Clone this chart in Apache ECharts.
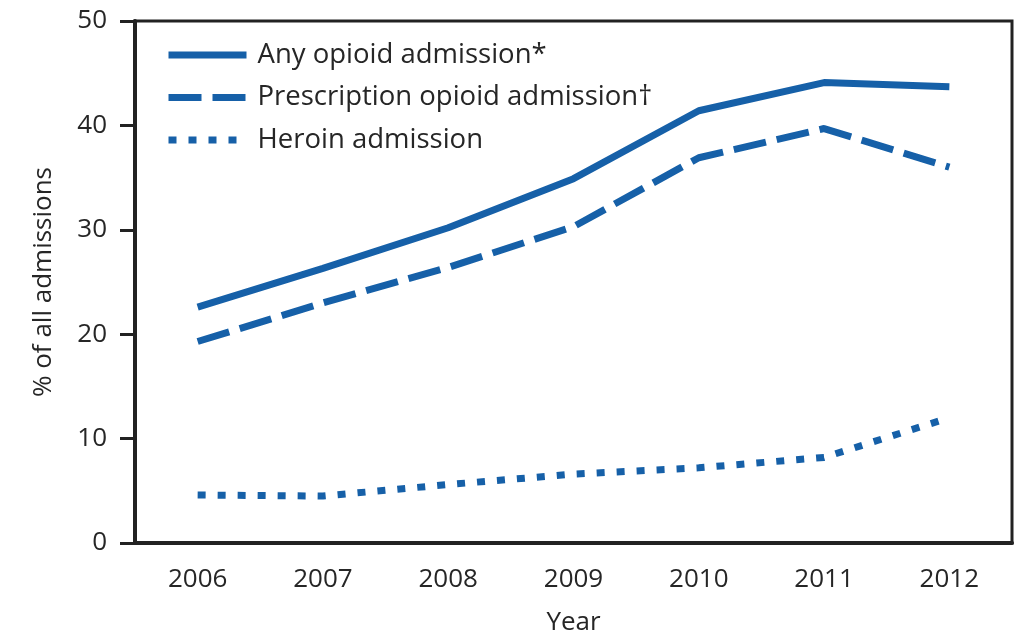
<!DOCTYPE html>
<html>
<head>
<meta charset="utf-8">
<script src="https://cdn.jsdelivr.net/npm/echarts@6/dist/echarts.min.js"></script>
<style>
html,body{margin:0;padding:0;background:#fff;}
#chart{width:1020px;height:634px;}
</style>
</head>
<body>
<div id="chart"></div>
<script>
const years = ['2006','2007','2008','2009','2010','2011','2012'];
const anyOpioid = [22.6, 26.3, 30.2, 34.9, 41.4, 44.1, 43.7];
const prescriptionOpioid = [19.3, 23.0, 26.4, 30.3, 36.9, 39.7, 36.0];
const heroin = [4.6, 4.5, 5.6, 6.6, 7.2, 8.2, 12.0];
const seriesNames = ['Any opioid admission*', 'Prescription opioid admission\u2020', 'Heroin admission'];

const FONT = '"Open Sans", "Noto Sans", sans-serif';
const TXT = '#262626';
const BLUE = '#1660a8';

const chart = echarts.init(document.getElementById('chart'));
chart.setOption({
  animation: false,
  backgroundColor: '#fff',
  grid: {left: 135, top: 21, right: 8, bottom: 91, show: true, borderColor: '#222', borderWidth: 3,
         containLabel: false, outerBoundsMode: 'none'},
  legend: {
    orient: 'vertical', left: 160, top: 36,
    itemWidth: 78, itemHeight: 20, itemGap: 14.5,
    itemStyle: {opacity: 0},
    lineStyle: {width: 7},
    textStyle: {fontFamily: FONT, fontSize: 27.5, color: TXT, padding: [0,0,0,6]},
    data: seriesNames
  },
  xAxis: {
    type: 'category', data: years, boundaryGap: true,
    name: 'Year', nameLocation: 'middle', nameGap: 67,
    nameTextStyle: {fontFamily: FONT, fontSize: 26, color: TXT},
    axisLine: {lineStyle: {color: '#222', width: 4}},
    axisTick: {alignWithLabel: true, length: 11, lineStyle: {color: '#222', width: 3}},
    axisLabel: {fontFamily: FONT, fontSize: 26, color: TXT, margin: 24},
    splitLine: {show: false}
  },
  yAxis: {
    type: 'value', min: 0, max: 50, interval: 10,
    name: '% of all admissions', nameLocation: 'middle', nameGap: 78,
    nameTextStyle: {fontFamily: FONT, fontSize: 26, color: TXT},
    axisLine: {show: true, lineStyle: {color: '#222', width: 4}},
    axisTick: {show: true, length: 15, lineStyle: {color: '#222', width: 3}},
    axisLabel: {fontFamily: FONT, fontSize: 26, color: TXT, margin: 28},
    splitLine: {show: false}
  },
  series: [
    {name: seriesNames[0], type: 'line', data: anyOpioid, symbol: 'none',
     lineStyle: {color: BLUE, width: 7}, itemStyle: {color: BLUE}},
    {name: seriesNames[1], type: 'line', data: prescriptionOpioid, symbol: 'none',
     lineStyle: {color: BLUE, width: 7, type: [33, 11]}, itemStyle: {color: BLUE}},
    {name: seriesNames[2], type: 'line', data: heroin, symbol: 'none',
     lineStyle: {color: BLUE, width: 7, type: [8, 12]}, itemStyle: {color: BLUE}}
  ]
});
</script>
</body>
</html>
